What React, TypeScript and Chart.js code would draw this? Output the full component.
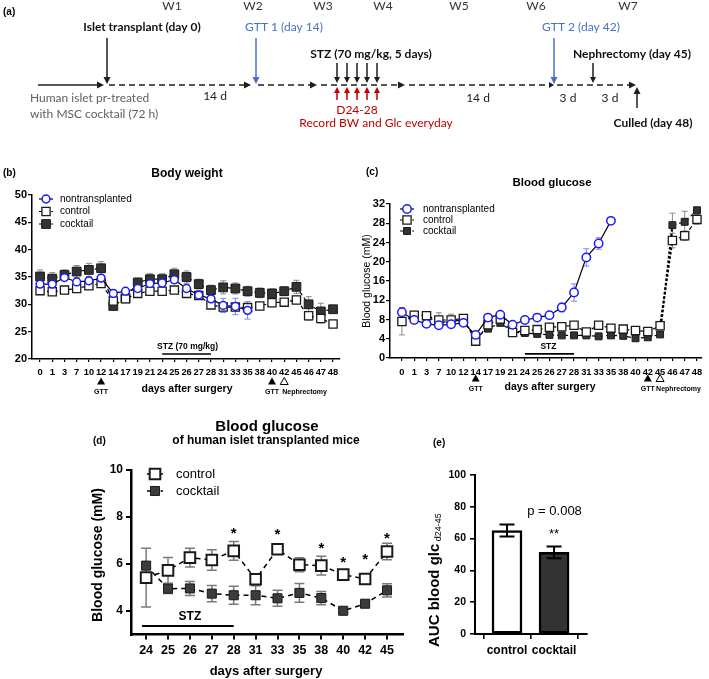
import React, { useEffect, useRef } from 'react';
import { Chart, registerables } from 'chart.js';

Chart.register(...registerables);

const SANS = '"Liberation Sans", Arial, Helvetica, sans-serif';
const CAL = 'Lato, "Open Sans", "Liberation Sans", sans-serif';

// ---------- Panel (a) timeline ----------
const tlWeeks = ['W1', 'W2', 'W3', 'W4', 'W5', 'W6', 'W7'];
const stzDays = [24, 25, 26, 27, 28];

// ---------- Panels (b) & (c): days after surgery ----------
const dayLabels = ['0', '1', '3', '7', '10', '12', '14', '17', '19', '21', '24', '25', '26', '27', '28', '31', '33', '35', '38', '40', '42', '45', '46', '47', '48'];

// (b) Body weight (g)
const bwNontransplanted = [33.7, 33.7, 34.9, 34.1, 34.3, 34.8, 32.0, 32.4, 32.9, 33.8, 33.9, 34.5, 32.9, 31.7, 31.0, 29.8, 29.6, 28.9, null, null, null, null, null, null, null];
const bwNontransplantedErr = [0.6, 0.5, 0.5, 0.6, 0.7, 0.6, 0.5, 0.4, 0.6, 0.6, 0.6, 0.7, 0.8, 0.8, 0.9, 1.3, 1.5, 1.6, null, null, null, null, null, null, null];
const bwControl = [32.5, 32.3, 32.6, 32.9, 33.4, 33.8, 30.6, 31.0, 32.0, 32.4, 32.4, 32.6, 32.0, 31.6, 29.9, 29.5, 29.5, 29.4, 29.7, 30.3, 30.4, 30.8, 27.9, 27.4, 26.4];
const bwControlErr = [0.5, 0.5, 0.5, 0.6, 0.6, 0.6, 0.6, 0.5, 0.6, 0.5, 0.5, 0.6, 0.6, 0.6, 0.6, 0.7, 0.7, 0.7, 0.6, 0.6, 0.6, 0.7, 0.8, 0.8, 0.5];
const bwCocktail = [35.1, 34.7, 35.4, 36.0, 36.3, 36.6, 29.7, 31.1, 34.0, 34.6, 34.6, 35.5, 35.0, 33.7, 32.6, 33.1, 32.9, 32.4, 32.1, 32.0, 32.4, 33.2, 30.0, 28.7, 29.1];
const bwCocktailErr = [1.2, 1.1, 0.9, 1.1, 1.2, 1.2, 0.6, 0.6, 0.8, 1.0, 1.0, 1.1, 1.1, 0.9, 0.9, 1.2, 1.0, 0.9, 0.9, 0.8, 0.8, 1.2, 1.4, 1.5, 0.3];

// (c) Blood glucose (mM)
const bgNontransplanted = [9.5, 7.9, 7.1, 6.8, 7.0, 7.3, 4.8, 8.4, 9.0, 6.9, 7.9, 8.4, 8.9, 10.5, 13.6, 20.9, 23.8, 28.5, null, null, null, null, null, null, null];
const bgNontransplantedErr = [1.0, 0.3, 0.3, 0.4, 0.3, 0.3, 0.5, 0.3, 0.3, 0.3, 0.3, 0.3, 0.3, 0.9, 1.8, 1.8, 1.2, 0.4, null, null, null, null, null, null, null];
const bgControl = [7.6, 8.9, 8.8, 7.9, 7.9, 8.2, 3.5, 6.9, 8.1, 5.3, 5.7, 5.9, 6.4, 6.5, 6.8, 5.4, 6.8, 6.2, 6.0, 5.7, 5.5, 6.7, 24.4, 25.4, 28.8];
const bgControlErr = [2.8, 0.8, 0.4, 1.5, 1.2, 0.5, 0.4, 0.5, 0.5, 0.3, 0.3, 0.3, 0.3, 0.3, 0.3, 0.3, 0.3, 0.3, 0.3, 0.3, 0.3, 0.5, 1.5, 1.0, 1.0];
const bgCocktail = [7.6, 8.6, 8.6, 7.4, 7.6, 7.9, 4.1, 6.1, 7.3, 5.4, 5.2, 5.0, 4.8, 4.7, 4.7, 4.7, 4.5, 4.7, 4.6, 4.1, 4.3, 4.9, 27.6, 28.3, 30.7];
const bgCocktailErr = [0.5, 0.4, 0.4, 0.4, 0.4, 0.3, 0.4, 0.4, 0.4, 0.3, 0.3, 0.3, 0.3, 0.3, 0.3, 0.3, 0.3, 0.3, 0.3, 0.3, 0.3, 0.3, 2.5, 2.2, 0.3];

// (d) Blood glucose of human islet transplanted mice
const dDayLabels = ['24', '25', '26', '27', '28', '31', '33', '35', '38', '40', '42', '45'];
const dControl = [5.42, 5.73, 6.27, 6.17, 6.56, 5.35, 6.63, 5.97, 5.93, 5.55, 5.36, 6.53];
const dControlErr = [1.25, 0.55, 0.4, 0.44, 0.4, 0.1, 0.05, 0.3, 0.4, 0.1, 0.05, 0.35];
const dCocktail = [5.93, 4.95, 4.96, 4.74, 4.67, 4.67, 4.54, 4.77, 4.55, 4.01, 4.31, 4.88];
const dCocktailErr = [0.15, 0.2, 0.3, 0.35, 0.38, 0.4, 0.34, 0.4, 0.28, 0.08, 0.05, 0.28];
const dSigIndex = [4, 6, 8, 9, 10, 11];
const dSigLevel = [7.45, 7.4, 6.8, 6.2, 6.35, 7.25];

// (e) AUC blood glc d24-45
const eGroups = ['control', 'cocktail'];
const eAuc = [65.1, 51.3];
const eAucErr = [3.8, 3.7];
const ePValue = 'p = 0.008';

// ---------- helpers ----------
const toXY = (vals: (number | null)[]) => vals.map((v, i) => ({ x: i, y: v }));

function txt(ctx: CanvasRenderingContext2D, s: string, x: number, y: number, font: string, color = '#000', align: CanvasTextAlign = 'center', base: CanvasTextBaseline = 'middle') {
  ctx.save();
  ctx.font = font;
  ctx.fillStyle = color;
  ctx.textAlign = align;
  ctx.textBaseline = base;
  ctx.fillText(s, x, y);
  ctx.restore();
}

function tri(ctx: CanvasRenderingContext2D, x: number, y: number, w: number, h: number, filled: boolean) {
  ctx.save();
  ctx.beginPath();
  ctx.moveTo(x, y - h / 2);
  ctx.lineTo(x + w / 2, y + h / 2);
  ctx.lineTo(x - w / 2, y + h / 2);
  ctx.closePath();
  if (filled) {
    ctx.fillStyle = '#000';
    ctx.fill();
  } else {
    ctx.lineWidth = 1;
    ctx.strokeStyle = '#000';
    ctx.stroke();
  }
  ctx.restore();
}

function marker(ctx: CanvasRenderingContext2D, ds: any, x: number, y: number) {
  const r = ds.pointRadius;
  ctx.save();
  ctx.lineWidth = ds.pointBorderWidth;
  ctx.strokeStyle = ds.pointBorderColor;
  ctx.fillStyle = ds.pointBackgroundColor;
  ctx.beginPath();
  if (ds.pointStyle === 'circle') ctx.arc(x, y, r, 0, Math.PI * 2);
  else {
    const h = r * Math.SQRT1_2;
    ctx.rect(x - h, y - h, 2 * h, 2 * h);
  }
  ctx.fill();
  if (ds.pointBorderWidth) ctx.stroke();
  ctx.restore();
}

function drawLegend(chart: any, cx: number, tx: number, y0: number, dy: number, half: number, dashLen: number, font: string) {
  const ctx: CanvasRenderingContext2D = chart.ctx;
  chart.data.datasets.forEach((ds: any, k: number) => {
    const y = y0 + k * dy;
    ctx.save();
    ctx.strokeStyle = '#000';
    ctx.lineWidth = ds.borderWidth;
    ctx.beginPath();
    if (ds.borderDash && ds.borderDash.length) {
      ctx.moveTo(cx - half, y);
      ctx.lineTo(cx - half + dashLen, y);
      ctx.moveTo(cx + half - dashLen * 0.6, y);
      ctx.lineTo(cx + half, y);
    } else {
      ctx.moveTo(cx - half, y);
      ctx.lineTo(cx + half, y);
    }
    ctx.stroke();
    ctx.restore();
    marker(ctx, ds, cx, y);
    txt(ctx, ds.label, tx, y, font, '#000', 'left');
  });
}

function arrow(ctx: CanvasRenderingContext2D, x1: number, y1: number, x2: number, y2: number, color: string, lw: number, dash?: number[], hl = 7, hw = 3.5) {
  const a = Math.atan2(y2 - y1, x2 - x1);
  const c = Math.cos(a), s = Math.sin(a);
  ctx.save();
  ctx.strokeStyle = color;
  ctx.fillStyle = color;
  ctx.lineWidth = lw;
  if (dash) ctx.setLineDash(dash);
  ctx.beginPath();
  ctx.moveTo(x1, y1);
  ctx.lineTo(x2 - hl * c, y2 - hl * s);
  ctx.stroke();
  ctx.setLineDash([]);
  ctx.beginPath();
  ctx.moveTo(x2, y2);
  ctx.lineTo(x2 - hl * c + hw * s, y2 - hl * s - hw * c);
  ctx.lineTo(x2 - hl * c - hw * s, y2 - hl * s + hw * c);
  ctx.closePath();
  ctx.fill();
  ctx.restore();
}

const errorBarPlugin = {
  id: 'errbars',
  beforeDatasetsDraw(chart: any) {
    drawErrors(chart, false);
  },
  afterDatasetsDraw(chart: any) {
    drawErrors(chart, true);
  },
};

function drawErrors(chart: any, onTop: boolean) {
  const ctx: CanvasRenderingContext2D = chart.ctx;
  chart.data.datasets.forEach((ds: any, di: number) => {
    if (!ds.errors || !!ds.errorsOnTop !== onTop) return;
    const meta = chart.getDatasetMeta(di);
    const ys = chart.scales[meta.yAxisID];
    ctx.save();
    ctx.strokeStyle = ds.errorColor;
    ctx.lineWidth = ds.errorWidth;
    meta.data.forEach((el: any, i: number) => {
      const raw = ds.data[i];
      const v = raw && typeof raw === 'object' ? raw.y : raw;
      const e = ds.errors[i];
      if (v == null || e == null) return;
      const x = el.x;
      const yt = ys.getPixelForValue(v + e);
      const yb = ys.getPixelForValue(v - e);
      const cap = ds.errorCap;
      ctx.beginPath();
      ctx.moveTo(x, yt);
      ctx.lineTo(x, yb);
      ctx.moveTo(x - cap, yt);
      ctx.lineTo(x + cap, yt);
      ctx.moveTo(x - cap, yb);
      ctx.lineTo(x + cap, yb);
      ctx.stroke();
    });
    ctx.restore();
  });
}

function indexScale(labels: string[], min: number, max: number, height: number, font: any, tickLen: number, pad: number, borderW: number) {
  return {
    type: 'linear',
    min,
    max,
    offset: false,
    afterBuildTicks: (s: any) => {
      s.ticks = labels.map((_, i) => ({ value: i }));
    },
    afterFit: (s: any) => {
      s.height = height;
    },
    ticks: {
      callback: (v: any) => labels[Math.round(v)],
      autoSkip: false,
      maxRotation: 0,
      minRotation: 0,
      padding: pad,
      color: '#000',
      font,
    },
    grid: { display: true, drawOnChartArea: false, drawTicks: true, tickLength: tickLen, color: '#000', lineWidth: borderW * 0.8 },
    border: { display: true, color: '#000', width: borderW },
  };
}

function valueScale(min: number, max: number, step: number, width: number, font: any, tickLen: number, pad: number, borderW: number, explicit?: number[]) {
  return {
    type: 'linear',
    min,
    max,
    ticks: { stepSize: step, padding: pad, color: '#000', font },
    afterBuildTicks: explicit
      ? (s: any) => {
          s.ticks = explicit.map((v) => ({ value: v }));
        }
      : undefined,
    afterFit: (s: any) => {
      s.width = width;
    },
    grid: { display: true, drawOnChartArea: false, drawTicks: true, tickLength: tickLen, color: '#000', lineWidth: borderW * 0.8 },
    border: { display: true, color: '#000', width: borderW },
  };
}

function lineDs(label: string, vals: (number | null)[], errs: (number | null)[], style: any) {
  return {
    label,
    data: toXY(vals),
    errors: errs,
    spanGaps: false,
    clip: false,
    ...style,
  };
}

const baseOpts = (padding: any) => ({
  responsive: false,
  maintainAspectRatio: false,
  animation: false,
  layout: { padding },
  plugins: { legend: { display: false }, tooltip: { enabled: false }, title: { display: false } },
});

// ---------- chart configs ----------
function makeTimeline() {
  return {
    type: 'scatter',
    data: { datasets: [] },
    options: {
      ...baseOpts(0),
      scales: { x: { display: false }, y: { display: false } },
    },
    plugins: [
      {
        id: 'timeline',
        afterDraw(chart: any) {
          const ctx: CanvasRenderingContext2D = chart.ctx;
          const blue = '#4472C4';
          const red = '#C00000';
          const dark = '#1e1e1e';
          const f = (w: string, s: number) => `${w} ${s}px ${CAL}`;
          const anchorsD = [0, 14, 24, 28, 42, 45, 48];
          const anchorsX = [107, 256, 337, 377, 554, 593, 637];
          const dayX = (d: number) => {
            for (let i = 0; i < anchorsD.length - 1; i++) {
              if (d <= anchorsD[i + 1]) return anchorsX[i] + ((d - anchorsD[i]) / (anchorsD[i + 1] - anchorsD[i])) * (anchorsX[i + 1] - anchorsX[i]);
            }
            return anchorsX[anchorsX.length - 1];
          };
          txt(ctx, '(a)', 3, 12, `bold 10px ${SANS}`, '#000', 'left');
          const weekX = [172, 253, 323, 383, 459, 536, 628];
          tlWeeks.forEach((w, i) => txt(ctx, w, weekX[i], 6, f('normal', 12), '#333'));
          const ly = 85;
          arrow(ctx, 38, ly, dayX(0) - 3, ly, dark, 1.6);
          const dash = [6, 4];
          arrow(ctx, dayX(0) + 2, ly, dayX(14) - 5, ly, dark, 1.6, dash);
          arrow(ctx, dayX(14) + 2, ly, 317, ly, dark, 1.6, dash);
          arrow(ctx, 321, ly, 405, ly, dark, 1.6, dash);
          arrow(ctx, 409, ly, dayX(42), ly, dark, 1.6, dash, 5, 3);
          arrow(ctx, dayX(42) + 3, ly, dayX(48) - 1, ly, dark, 1.6, dash);
          txt(ctx, 'Islet transplant (day 0)', 142, 27, f('bold', 12), '#111');
          arrow(ctx, dayX(0), 38, dayX(0), ly - 1, dark, 1.5);
          txt(ctx, 'Human islet pr-treated', 30, 98, f('normal', 12), '#606060', 'left');
          txt(ctx, 'with MSC cocktail (72 h)', 30, 114, f('normal', 12), '#606060', 'left');
          txt(ctx, '14 d', 215, 96, f('normal', 12), '#222');
          txt(ctx, 'GTT 1 (day 14)', 284, 27, f('normal', 12), blue);
          arrow(ctx, dayX(14), 38, dayX(14), ly - 1, blue, 1.5);
          txt(ctx, 'STZ (70 mg/kg, 5 days)', 371, 54, f('bold', 12), '#111');
          stzDays.forEach((d) => {
            const x = dayX(d);
            arrow(ctx, x, 63, x, ly - 2, dark, 1.5, undefined, 6, 3);
            arrow(ctx, x, 100, x, ly + 2, red, 1.5, undefined, 6, 3);
          });
          txt(ctx, 'D24-28', 357, 110, f('normal', 12), red);
          txt(ctx, 'Record BW and Glc everyday', 376, 123, f('normal', 12), red);
          txt(ctx, '14 d', 478, 98, f('normal', 12), '#222');
          txt(ctx, 'GTT 2 (day 42)', 581, 27, f('normal', 12), blue);
          arrow(ctx, dayX(42), 38, dayX(42), ly - 1, blue, 1.5);
          txt(ctx, 'Nephrectomy (day 45)', 632, 54, f('bold', 12), '#111');
          arrow(ctx, dayX(45), 63, dayX(45), ly - 2, dark, 1.5, undefined, 6, 3);
          txt(ctx, '3 d', 568, 98, f('normal', 12), '#222');
          txt(ctx, '3 d', 610, 98, f('normal', 12), '#222');
          arrow(ctx, dayX(48), 108, dayX(48), ly + 2, dark, 1.5);
          txt(ctx, 'Culled (day 48)', 653, 123, f('bold', 12), '#111');
        },
      },
    ],
  };
}

const nonStyle = (r: number) => ({
  borderColor: '#000',
  borderWidth: 1.2,
  pointStyle: 'circle',
  pointRadius: r,
  pointBorderColor: '#1a1aff',
  pointBackgroundColor: '#fff',
  pointBorderWidth: 1.5,
  errorColor: '#8080ff',
  errorWidth: 1,
  errorCap: 3,
});
const ctrlStyle = (r: number, bw: number, dash: number[], lw: number, errC: string, cap: number, ew: number) => ({
  borderColor: '#000',
  borderWidth: lw,
  borderDash: dash,
  pointStyle: 'rect',
  pointRadius: r,
  pointBorderColor: '#1a1a1a',
  pointBackgroundColor: '#fff',
  pointBorderWidth: bw,
  errorColor: errC,
  errorWidth: ew,
  errorCap: cap,
});
const cockStyle = (r: number, fill: string, dash: number[], lw: number, errC: string, cap: number, ew: number) => ({
  borderColor: '#000',
  borderWidth: lw,
  borderDash: dash,
  pointStyle: 'rect',
  pointRadius: r,
  pointBorderColor: '#1a1a1a',
  pointBackgroundColor: fill,
  pointBorderWidth: 1,
  errorColor: errC,
  errorWidth: ew,
  errorCap: cap,
});

function makeBodyWeight() {
  const tickFont = { family: SANS, size: 9.3, weight: 'bold' };
  return {
    type: 'line',
    data: {
      datasets: [
        lineDs('nontransplanted', bwNontransplanted, bwNontransplantedErr, nonStyle(3.9)),
        lineDs('control', bwControl, bwControlErr, ctrlStyle(5.8, 1.3, [4, 3], 1.2, '#8a8a8a', 3, 1)),
        lineDs('cocktail', bwCocktail, bwCocktailErr, cockStyle(6.2, '#333', [4, 3], 1.2, '#8a8a8a', 3, 1)),
      ],
    },
    options: {
      ...baseOpts({ top: 35, right: 10, left: 0, bottom: 0 }),
      scales: {
        x: indexScale(dayLabels, -0.66, 24.57, 41, tickFont, 3, 5, 1.5),
        y: valueScale(20, 50, 5, 32, { family: SANS, size: 11, weight: 'bold' }, 4, 1, 1.5),
      },
    },
    plugins: [
      errorBarPlugin,
      {
        id: 'annB',
        afterDraw(chart: any) {
          const ctx: CanvasRenderingContext2D = chart.ctx;
          const xs = chart.scales.x;
          const ys = chart.scales.y;
          txt(ctx, '(b)', 3, 13, `bold 10px ${SANS}`, '#000', 'left');
          txt(ctx, 'Body weight', 187, 14, `bold 12px ${SANS}`);
          drawLegend(chart, 46, 60, 39, 12.5, 7, 3, `10px ${SANS}`);
          ctx.save();
          ctx.translate(7, 285);
          ctx.rotate(-Math.PI / 2);
          txt(ctx, 'Body weight (g)', 0, 0, `9.5px ${SANS}`);
          ctx.restore();
          const yb = ys.getPixelForValue(20.9);
          ctx.save();
          ctx.strokeStyle = '#000';
          ctx.lineWidth = 1.5;
          ctx.beginPath();
          ctx.moveTo(xs.getPixelForValue(10), yb);
          ctx.lineTo(xs.getPixelForValue(14), yb);
          ctx.stroke();
          ctx.restore();
          txt(ctx, 'STZ (70 mg/kg)', (xs.getPixelForValue(10) + xs.getPixelForValue(14)) / 2 + 1, yb - 7, `bold 8.5px ${SANS}`);
          const ty = 221;
          tri(ctx, xs.getPixelForValue(5), ty, 8, 7, true);
          txt(ctx, 'GTT', xs.getPixelForValue(5), 232, `bold 7px ${SANS}`);
          tri(ctx, xs.getPixelForValue(19), ty, 8, 7, true);
          tri(ctx, xs.getPixelForValue(20), ty, 8, 7, false);
          txt(ctx, 'GTT', xs.getPixelForValue(19), 232, `bold 7px ${SANS}`);
          txt(ctx, 'Nephrectomy', xs.getPixelForValue(20) - 2, 232, `bold 7px ${SANS}`, '#000', 'left');
          txt(ctx, 'days after surgery', 187, 229, `bold 10.5px ${SANS}`);
        },
      },
    ],
  };
}

function makeGlucose() {
  const tickFont = { family: SANS, size: 9.3, weight: 'bold' };
  return {
    type: 'line',
    data: {
      datasets: [
        lineDs('nontransplanted', bgNontransplanted, bgNontransplantedErr, nonStyle(4.2)),
        {
          ...lineDs('control', bgControl, bgControlErr, ctrlStyle(5.8, 1.3, [4, 3], 1.2, '#8a8a8a', 3, 1)),
          segment: {
            borderDash: (c: any) => (c.p0DataIndex === 21 ? [2.5, 2] : undefined),
            borderWidth: (c: any) => (c.p0DataIndex === 21 ? 2 : undefined),
          },
        },
        {
          ...lineDs('cocktail', bgCocktail, bgCocktailErr, cockStyle(4.9, '#333', [4, 3], 1.2, '#8a8a8a', 3, 1)),
          segment: {
            borderDash: (c: any) => (c.p0DataIndex === 21 ? [2.5, 2] : undefined),
            borderWidth: (c: any) => (c.p0DataIndex === 21 ? 2 : undefined),
          },
        },
      ],
    },
    options: {
      ...baseOpts({ top: 44, right: 6, left: 0, bottom: 0 }),
      scales: {
        x: indexScale(dayLabels, -0.97, 24.4, 42, tickFont, 3, 6, 1.5),
        y: valueScale(0, 32, 4, 40, { family: SANS, size: 11, weight: 'bold' }, 4, 1, 1.5),
      },
    },
    plugins: [
      errorBarPlugin,
      {
        id: 'annC',
        afterDraw(chart: any) {
          const ctx: CanvasRenderingContext2D = chart.ctx;
          const xs = chart.scales.x;
          const ys = chart.scales.y;
          txt(ctx, '(c)', 16, 12, `bold 10px ${SANS}`, '#000', 'left');
          txt(ctx, 'Blood glucose', 202, 23, `bold 11.5px ${SANS}`);
          drawLegend(chart, 57, 73, 49, 11, 7, 3, `10px ${SANS}`);
          ctx.save();
          ctx.translate(17, 121);
          ctx.rotate(-Math.PI / 2);
          txt(ctx, 'Blood glucose (mM)', 0, 0, `10.5px ${SANS}`);
          ctx.restore();
          const yb = ys.getPixelForValue(0.85);
          ctx.save();
          ctx.strokeStyle = '#000';
          ctx.lineWidth = 1.8;
          ctx.beginPath();
          ctx.moveTo(xs.getPixelForValue(10), yb);
          ctx.lineTo(xs.getPixelForValue(14), yb);
          ctx.stroke();
          ctx.restore();
          txt(ctx, 'STZ', (xs.getPixelForValue(10) + xs.getPixelForValue(14)) / 2 - 1, yb - 7, `bold 8.5px ${SANS}`);
          const ty = 218;
          tri(ctx, xs.getPixelForValue(6), ty, 8, 7, true);
          txt(ctx, 'GTT', xs.getPixelForValue(6), 229, `bold 7px ${SANS}`);
          tri(ctx, xs.getPixelForValue(20), ty, 8, 7, true);
          tri(ctx, xs.getPixelForValue(21), ty, 8, 7, false);
          txt(ctx, 'GTT', xs.getPixelForValue(20), 229, `bold 7px ${SANS}`);
          txt(ctx, 'Nephrectomy', xs.getPixelForValue(21) - 4, 229, `bold 7px ${SANS}`, '#000', 'left');
          txt(ctx, 'days after surgery', 200, 227, `bold 10.5px ${SANS}`);
        },
      },
    ],
  };
}

function makeGlucoseD() {
  return {
    type: 'line',
    data: {
      datasets: [
        lineDs('control', dControl, dControlErr, ctrlStyle(7.5, 2, [5, 4], 1.5, '#7a7a7a', 5, 1.5)),
        lineDs('cocktail', dCocktail, dCocktailErr, cockStyle(6.4, '#3c3c3c', [5, 4], 1.5, '#7a7a7a', 5, 1.5)),
      ],
    },
    options: {
      ...baseOpts({ top: 65, right: 17, left: 0, bottom: 0 }),
      scales: {
        x: indexScale(dDayLabels, -0.69, 11.73, 44.5, { family: SANS, size: 12.5, weight: 'bold' }, 5, 4, 2.5),
        y: valueScale(3, 10, 2, 131, { family: SANS, size: 12, weight: 'bold' }, 5, 3, 2.5, [4, 6, 8, 10]),
      },
    },
    plugins: [
      errorBarPlugin,
      {
        id: 'annD',
        afterDraw(chart: any) {
          const ctx: CanvasRenderingContext2D = chart.ctx;
          const xs = chart.scales.x;
          const ys = chart.scales.y;
          txt(ctx, 'Blood glucose', 267, 22, `bold 15px ${SANS}`);
          txt(ctx, 'of human islet transplanted mice', 266, 36, `bold 12px ${SANS}`);
          txt(ctx, '(d)', 93, 36, `bold 10px ${SANS}`, '#000', 'left');
          drawLegend(chart, 155, 176, 69, 17, 8, 4, `13px ${SANS}`);
          ctx.save();
          ctx.translate(98, 150);
          ctx.rotate(-Math.PI / 2);
          txt(ctx, 'Blood glucose (mM)', 0, 0, `bold 14px ${SANS}`);
          ctx.restore();
          const yb = ys.getPixelForValue(3.36);
          ctx.save();
          ctx.strokeStyle = '#000';
          ctx.lineWidth = 2;
          ctx.beginPath();
          ctx.moveTo(xs.getPixelForValue(0) - 4, yb);
          ctx.lineTo(xs.getPixelForValue(4), yb);
          ctx.stroke();
          ctx.restore();
          txt(ctx, 'STZ', (xs.getPixelForValue(0) + xs.getPixelForValue(4)) / 2, yb - 9, `bold 12px ${SANS}`);
          dSigIndex.forEach((idx, k) => {
            txt(ctx, '*', xs.getPixelForValue(idx), ys.getPixelForValue(dSigLevel[k]) + 8, `bold 15px ${SANS}`, '#000', 'center', 'alphabetic');
          });
          txt(ctx, 'days after surgery', 266, 266, `bold 13px ${SANS}`);
        },
      },
    ],
  };
}

function makeAuc() {
  return {
    type: 'bar',
    data: {
      datasets: [
        {
          label: 'AUC',
          data: toXY(eAuc),
          errors: eAucErr,
          errorsOnTop: true,
          errorColor: '#000',
          errorWidth: 2,
          errorCap: 7.5,
          backgroundColor: ['#ffffff', '#333333'],
          borderColor: '#000',
          borderWidth: 2.5,
          borderSkipped: false,
          barThickness: 30,
        },
      ],
    },
    options: {
      ...baseOpts({ top: 70, right: 122, left: 0, bottom: 0 }),
      scales: {
        x: indexScale(eGroups, -0.68, 1.7, 45, { family: SANS, size: 12, weight: 'bold' }, 5, 4, 2),
        y: valueScale(0, 100, 20, 55, { family: SANS, size: 10.5, weight: 'bold' }, 5, 4, 2),
      },
    },
    plugins: [
      errorBarPlugin,
      {
        id: 'annE',
        afterDraw(chart: any) {
          const ctx: CanvasRenderingContext2D = chart.ctx;
          const xs = chart.scales.x;
          txt(ctx, '(e)', 13, 38, `bold 10px ${SANS}`, '#000', 'left');
          txt(ctx, ePValue, xs.getPixelForValue(1) + 0.5, 106, `13px ${SANS}`);
          txt(ctx, '**', xs.getPixelForValue(1), 129, `13px ${SANS}`);
          ctx.save();
          ctx.translate(19, 242);
          ctx.rotate(-Math.PI / 2);
          ctx.font = `bold 15px ${SANS}`;
          ctx.fillStyle = '#000';
          ctx.textAlign = 'left';
          ctx.textBaseline = 'alphabetic';
          const main = 'AUC blood glc';
          ctx.fillText(main, 0, 0);
          const w = ctx.measureText(main).width;
          ctx.font = `9px ${SANS}`;
          ctx.fillText(' d24-45', w, 2);
          ctx.restore();
        },
      },
    ],
  };
}

function ChartBox({ left, top, width, height, make }: { left: number; top: number; width: number; height: number; make: () => any }) {
  const ref = useRef<HTMLCanvasElement | null>(null);
  useEffect(() => {
    if (!ref.current) return;
    const chart = new Chart(ref.current, make());
    return () => chart.destroy();
  }, []);
  return (
    <div style={{ position: 'absolute', left, top, width, height }}>
      <canvas ref={ref} width={width} height={height} style={{ display: 'block', width, height }} />
    </div>
  );
}

export default function App() {
  Chart.defaults.font.family = SANS;
  Chart.defaults.color = '#000';
  return (
    <div style={{ position: 'fixed', left: 0, top: 0, width: 709, height: 679, background: '#fff', overflow: 'hidden' }}>
      <ChartBox left={0} top={0} width={709} height={150} make={makeTimeline} />
      <ChartBox left={0} top={160} width={350} height={240} make={makeBodyWeight} />
      <ChartBox left={350} top={160} width={359} height={240} make={makeGlucose} />
      <ChartBox left={0} top={405} width={420} height={274} make={makeGlucoseD} />
      <ChartBox left={420} top={405} width={289} height={274} make={makeAuc} />
    </div>
  );
}
